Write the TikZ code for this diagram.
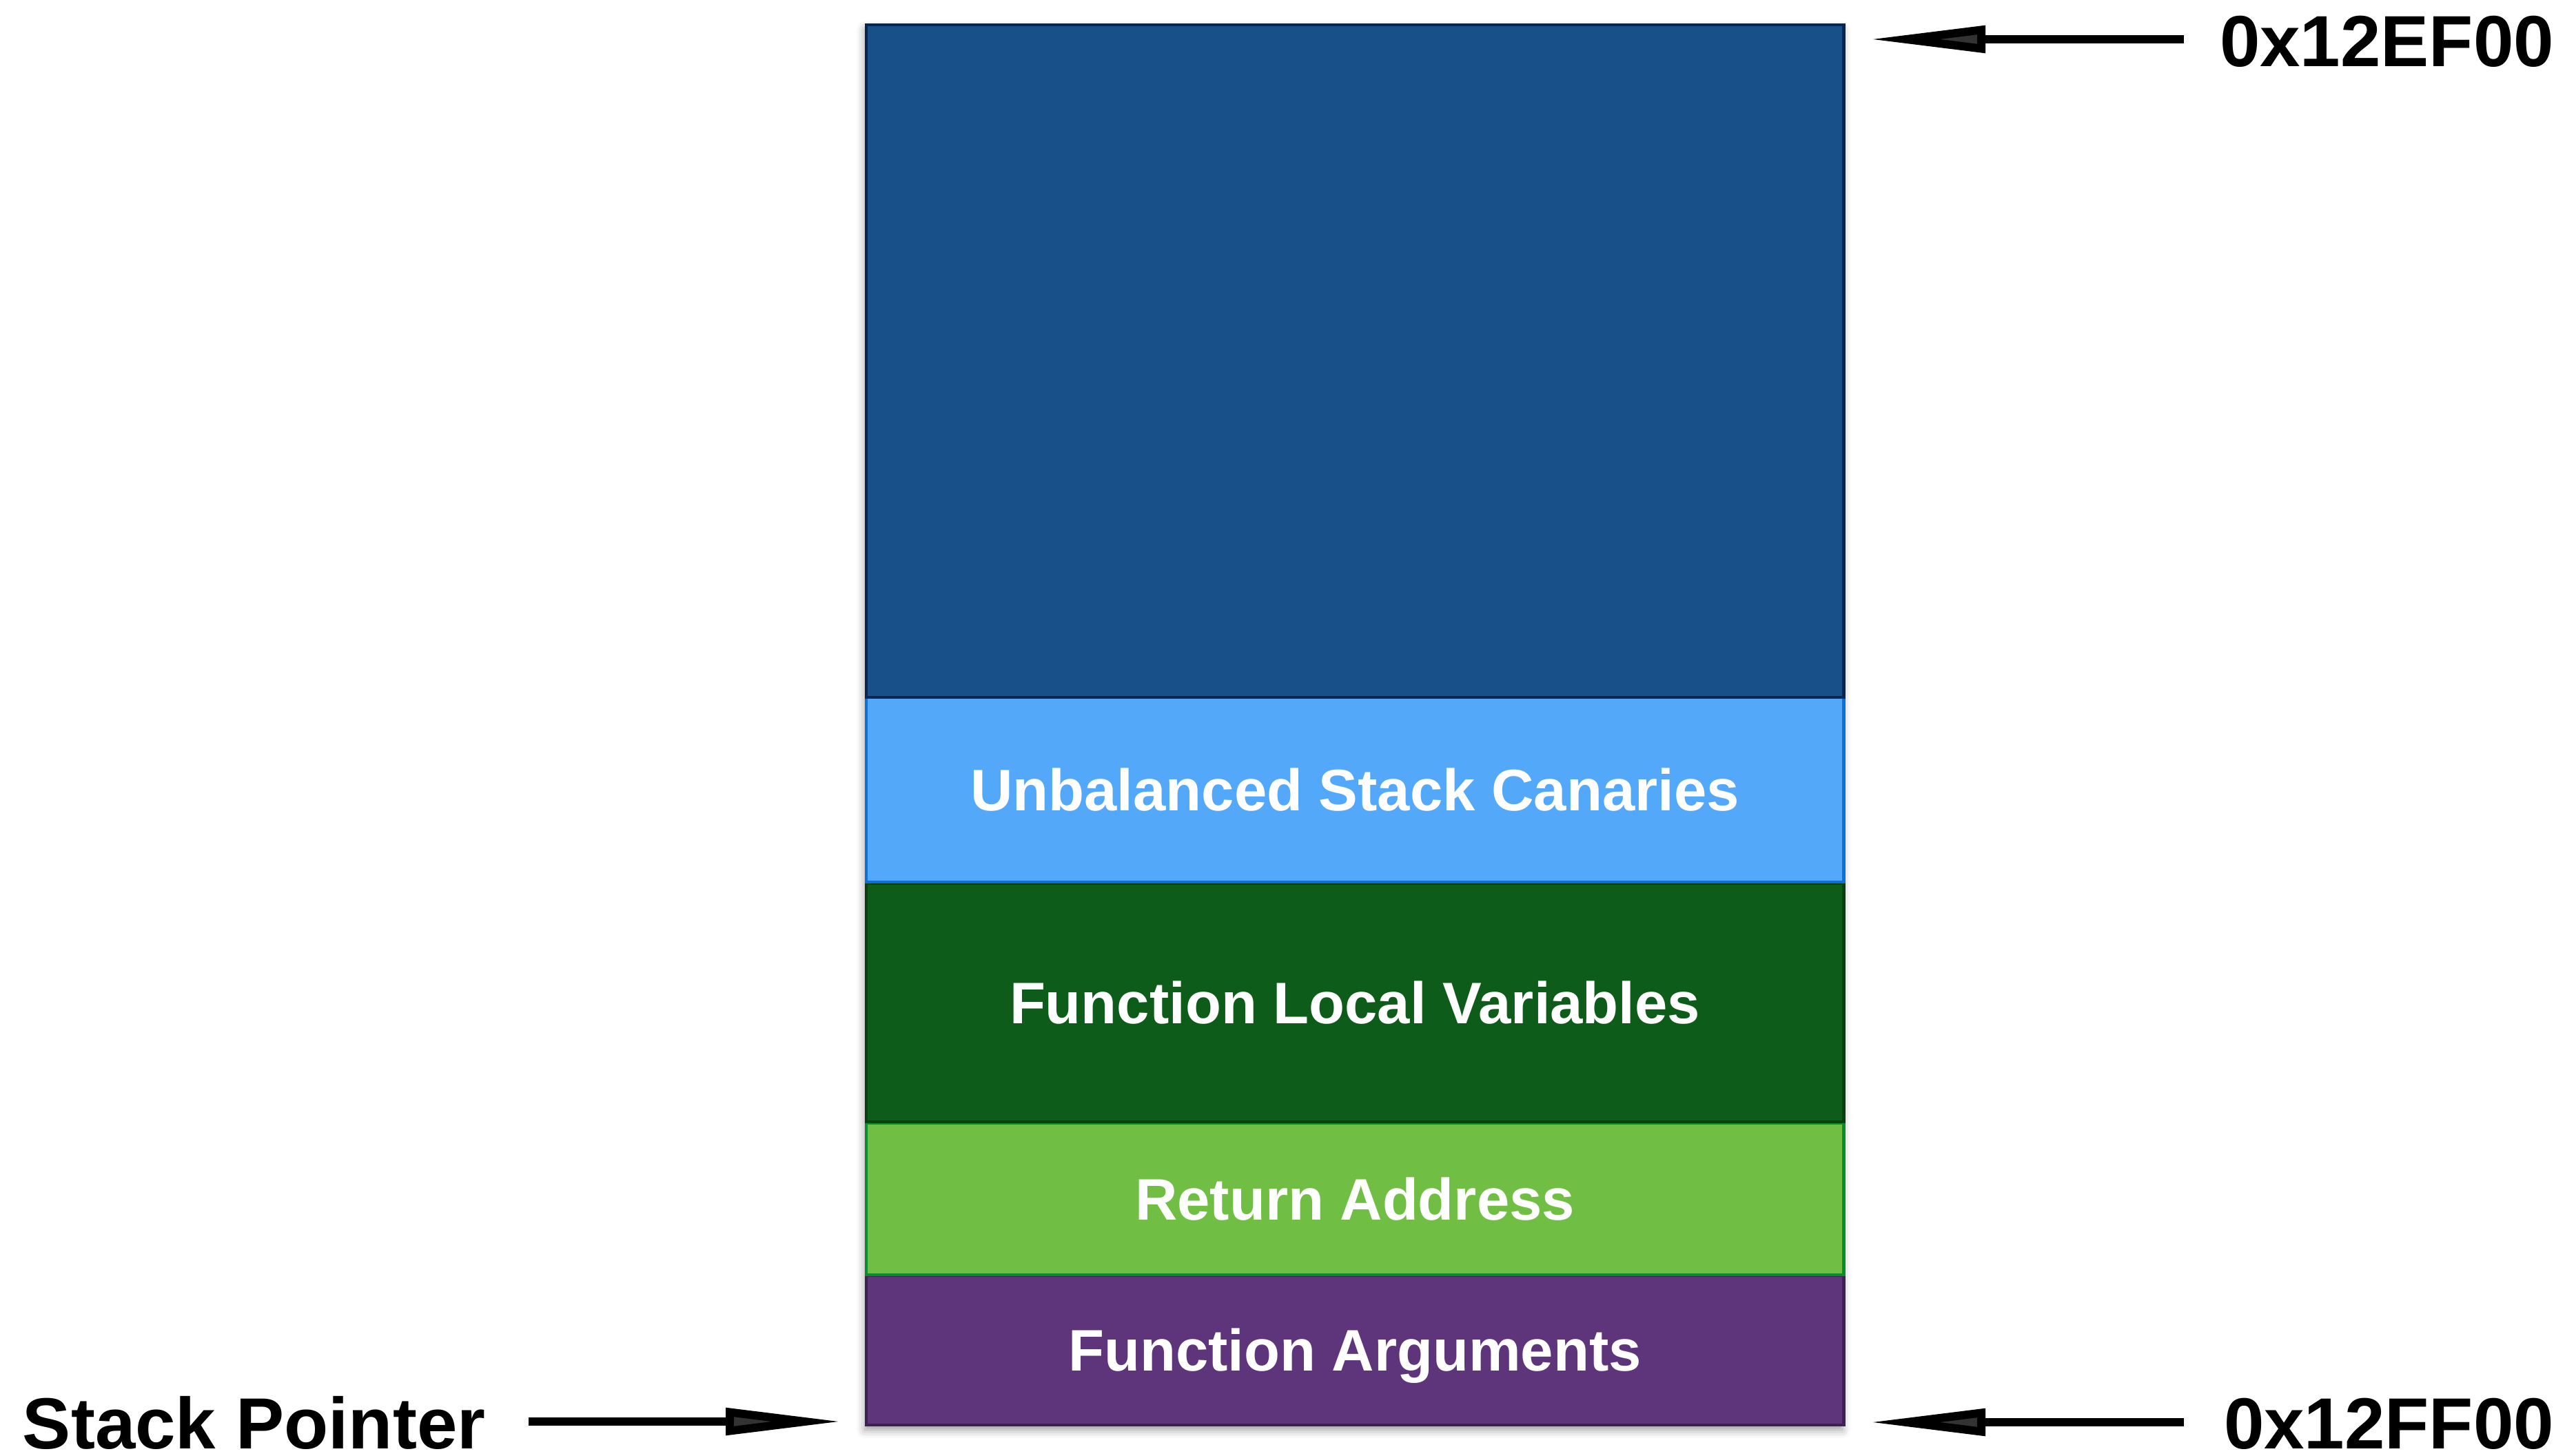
\documentclass[tikz,border=0pt]{standalone}
\usepackage{fontspec}
\setmainfont{Liberation Sans}
\usetikzlibrary{arrows.meta,shadows.blur}

\definecolor{freefill}{HTML}{18508A}
\definecolor{freeline}{HTML}{082652}
\definecolor{canfill}{HTML}{53A8FA}
\definecolor{canline}{HTML}{0E6FD6}
\definecolor{locfill}{HTML}{0E5C1A}
\definecolor{locline}{HTML}{073F0E}
\definecolor{retfill}{HTML}{70BF44}
\definecolor{retline}{HTML}{0B8C2C}
\definecolor{argfill}{HTML}{5E347A}
\definecolor{argline}{HTML}{3F2056}

\begin{document}
\begin{tikzpicture}[x=1cm,y=1cm,
  layer/.style={draw, line width=1.4pt, minimum width=14.18cm, inner sep=0pt,
    outer sep=0pt, anchor=south west, text=white,
    font=\bfseries\fontsize{24.2}{29}\selectfont,
    text height=17.3pt, text depth=0pt},
  addr/.style={inner sep=0pt, outer sep=0pt, anchor=base east,
    font=\bfseries\fontsize{29.9}{36}\selectfont},
  ptr/.style={line width=3.4pt, -{Triangle[length=1.7cm,width=0.37cm]}},
]
\useasboundingbox (0,0) rectangle (37.22,21.12);

% soft shadow behind the whole stack
\path[blur shadow={shadow xshift=-0.02cm, shadow yshift=-0.07cm,
  shadow blur radius=0.12cm, shadow opacity=40}]
  (12.57,0.44) rectangle (26.75,20.76);

% stack frames, bottom to top
\node[layer, fill=argfill, draw=argline, minimum height=2.17cm]
  (args) at (12.57,0.44) {Function Arguments};
\node[layer, fill=retfill, draw=retline, minimum height=2.20cm]
  (ret) at (12.57,2.62) {Return Address};
\node[layer, fill=locfill, draw=locline, minimum height=3.46cm]
  (locals) at (12.57,4.84) {Function Local Variables};
\node[layer, fill=canfill, draw=canline, minimum height=2.68cm]
  (canary) at (12.57,8.32) {Unbalanced Stack Canaries};
\node[layer, fill=freefill, draw=freeline, minimum height=9.76cm]
  (free) at (12.57,11.00) {};

% address labels
\node[addr] (topaddr) at (37.06,20.15) {0x12EF00};
\node[addr] (botaddr) at (37.06,0.10) {0x12FF00};
\node[inner sep=0pt, outer sep=0pt, anchor=base west,
  font=\bfseries\fontsize{29.9}{36}\selectfont]
  (sp) at (0.33,0.10) {Stack Pointer};

% pointer arrows
\coordinate (topTail) at (31.69,20.55);
\coordinate (topTip)  at (27.11,20.55);
\coordinate (botTail) at (31.69,0.48);
\coordinate (botTip)  at (27.11,0.48);
\coordinate (spTail)  at (7.67,0.49);
\coordinate (spTip)   at (12.23,0.49);

\draw[ptr] (topTail) -- (topTip);
\draw[ptr] (botTail) -- (botTip);
\draw[ptr] (spTail) -- (spTip);
\end{tikzpicture}
\end{document}
